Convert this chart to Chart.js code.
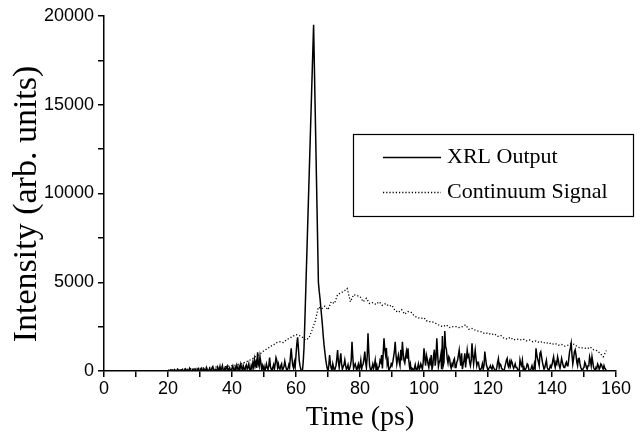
<!DOCTYPE html>
<html><head><meta charset="utf-8">
<script src="https://cdn.jsdelivr.net/npm/chart.js@4/dist/chart.umd.min.js"></script>
<style>html,body{margin:0;padding:0;background:#fff}canvas{display:block}</style>
</head><body>
<canvas id="c" width="642" height="440"></canvas>
<script>
const xTickLabels = [0, 20, 40, 60, 80, 100, 120, 140, 160];
const yTickLabels = [0, 5000, 10000, 15000, 20000];
const seriesNames = ['XRL Output', 'Continuum Signal'];
const xTitle = 'Time (ps)';
const yTitle = 'Intensity (arb. units)';

// XRL Output sampled every 0.25 ps starting at 20 ps (one row = 5 ps)
const xrlStart = 20, xrlStep = 0.25;
const xrlValues = [
  0,30,0,60,20,0,50,0,80,30,0,40,100,20,0,60,30,0,90,20,
  0,60,120,30,0,40,0,150,60,20,0,90,30,0,110,50,0,70,140,30,
  0,80,160,40,0,120,60,0,200,90,30,0,150,70,0,180,250,40,0,100,
  60,0,220,100,30,250,0,120,300,60,0,150,40,200,280,0,90,180,50,0,
  150,280,60,0,200,90,320,150,0,250,100,380,200,40,300,120,0,260,350,100,
  200,400,80,0,300,150,450,220,650,300,500,180,1050,400,250,800,500,120,300,80,
  250,0,150,400,200,80,300,750,250,100,0,200,350,100,400,750,600,200,400,150,
  100,300,400,0,150,250,550,300,100,0,150,350,200,800,1280,700,300,150,500,250,
  900,1500,1900,1300,600,300,100,0,0,500,1300,2700,4230,5750,7280,8810,10340,11860,13390,14920,
  16450,17970,19500,17080,14670,12250,9830,7420,5000,4500,4100,3600,3100,2600,2000,1500,1100,700,400,150,
  0,300,900,400,150,50,400,200,0,150,300,700,1180,500,200,600,1000,400,100,250,
  350,620,300,100,200,350,0,150,300,600,1650,800,150,300,400,200,0,250,400,100,
  250,600,100,300,400,700,1090,500,200,800,2120,1100,300,100,0,200,400,150,300,600,
  100,300,0,200,250,600,500,900,150,1000,1840,1200,900,1300,400,600,0,150,200,400,
  300,500,800,1100,1650,900,400,700,900,500,300,1200,600,1650,1000,600,450,800,1100,700,
  1280,600,200,400,0,150,100,0,150,350,100,0,200,400,100,200,400,250,100,500,
  1280,700,300,900,700,400,200,600,450,900,100,300,900,1200,300,700,1840,1000,250,500,
  600,900,100,1970,300,500,2250,1400,1200,700,450,800,700,300,150,400,300,600,700,200,
  200,500,600,900,1180,700,300,1000,100,400,600,1000,200,700,1180,800,900,500,300,600,
  1560,900,400,800,1180,700,300,500,500,200,0,100,200,400,100,300,1090,700,350,200,
  0,150,200,300,150,100,300,200,100,0,0,200,500,700,200,400,350,150,100,0,
  0,200,400,600,710,300,200,500,300,600,500,300,150,250,400,200,200,100,0,0,
  620,400,300,600,100,200,0,100,200,400,350,100,0,50,150,300,100,0,400,200,
  1280,900,700,500,300,1000,1090,800,500,300,100,200,400,600,200,100,0,150,300,200,
  350,600,800,400,200,500,400,800,600,300,150,400,710,500,300,200,200,400,500,300,
  300,700,1090,1300,1560,900,400,700,1090,1200,900,500,300,700,710,400,200,100,0,150,
  200,500,400,200,100,300,300,800,600,300,800,500,200,100,0,200,150,400,300,100,
  200,400,340,200,100,300,150,100,0
];

// Continuum Signal sampled every 1 ps starting at 20 ps
const contStart = 20, contStep = 1;
const contValues = [
  40,60,50,90,70,110,90,130,120,150,
  140,170,160,200,190,230,210,250,240,280,
  300,330,380,420,480,560,650,760,880,1000,
  1150,1250,1380,1480,1600,1650,1600,1750,1850,1950,
  2050,2000,1900,1750,1850,2300,2800,3600,3500,3650,
  3450,3900,3800,4300,4400,4500,4650,3900,4300,4250,
  4200,3900,4100,3800,3850,3750,3900,3700,3800,3650,
  3700,3400,3300,3450,3200,3350,3300,3100,3000,2950,
  3000,2800,2780,2750,2650,2550,2500,2600,2450,2500,
  2500,2450,2500,2600,2350,2400,2300,2250,2200,2100,
  2150,2050,2100,1950,2000,1850,1800,1900,1750,1800,
  1750,1800,1700,1750,1650,1700,1600,1650,1550,1600,
  1500,1550,1450,1500,1400,1450,1550,1500,1350,1300,
  1300,1250,1350,1200,1150,1000,800,1150
];

const toPoints = (start, step, vals) => vals.map((v, i) => ({x: start + step * i, y: v}));

const boxLegend = {
  id: 'boxLegend',
  afterDraw(chart) {
    const ctx = chart.ctx;
    ctx.save();
    // legend box
    ctx.fillStyle = '#fff';
    ctx.fillRect(353.5, 134.5, 280, 82);
    ctx.strokeStyle = '#000';
    ctx.lineWidth = 1.2;
    ctx.setLineDash([]);
    ctx.strokeRect(353.5, 134.5, 280, 82);
    chart.data.datasets.forEach((ds, i) => {
      const y = 157 + i * 35;
      ctx.beginPath();
      ctx.setLineDash(ds.borderDash || []);
      ctx.lineWidth = ds.borderWidth;
      ctx.strokeStyle = ds.borderColor;
      ctx.moveTo(383, y + 0.5);
      ctx.lineTo(441, y + 0.5);
      ctx.stroke();
      ctx.setLineDash([]);
      ctx.font = '22px "Liberation Serif"';
      ctx.fillStyle = '#000';
      ctx.textBaseline = 'middle';
      ctx.textAlign = 'left';
      ctx.fillText(ds.label, 447, y);
    });
    // y-axis title
    ctx.translate(27, 204);
    ctx.rotate(-Math.PI / 2);
    ctx.font = '34px "Liberation Serif"';
    ctx.textAlign = 'center';
    ctx.textBaseline = 'middle';
    ctx.fillStyle = '#000';
    ctx.fillText(yTitle, 0, 0);
    ctx.restore();
  }
};

new Chart(document.getElementById('c'), {
  type: 'line',
  data: {
    datasets: [
      {
        label: seriesNames[0],
        data: toPoints(xrlStart, xrlStep, xrlValues),
        borderColor: '#000', borderWidth: 1.5, pointRadius: 0, tension: 0.000001, fill: false
      },
      {
        label: seriesNames[1],
        data: toPoints(contStart, contStep, contValues),
        borderColor: '#000', borderWidth: 1.3, borderDash: [1.2, 2], pointRadius: 0, tension: 0, fill: false
      }
    ]
  },
  options: {
    responsive: false,
    animation: false,
    devicePixelRatio: 1,
    layout: { padding: { top: 16, right: 26, left: 0, bottom: 0 } },
    plugins: { legend: { display: false }, tooltip: { enabled: false } },
    scales: {
      x: {
        type: 'linear',
        min: xTickLabels[0], max: xTickLabels[xTickLabels.length - 1],
        afterFit: s => { s.height = 69; },
        border: { display: true, color: '#000', width: 1.5 },
        grid: { drawOnChartArea: false, drawTicks: true, tickLength: 6, color: '#000', lineWidth: 1.5 },
        ticks: {
          stepSize: 10, autoSkip: false, maxRotation: 0, padding: 1,
          color: '#000', font: { family: '"Liberation Sans"', size: 18 },
          callback: v => xTickLabels.includes(v) ? String(v) : ''
        },
        title: { display: true, text: xTitle, color: '#000', font: { family: '"Liberation Serif"', size: 28 }, padding: { top: 0, bottom: 6 } }
      },
      y: {
        min: yTickLabels[0], max: yTickLabels[yTickLabels.length - 1],
        afterFit: s => { s.width = 104; },
        border: { display: true, color: '#000', width: 1.5 },
        grid: { drawOnChartArea: false, drawTicks: true, tickLength: 6, color: '#000', lineWidth: 1.5 },
        ticks: {
          stepSize: 2500, autoSkip: false, padding: 4,
          color: '#000', font: { family: '"Liberation Sans"', size: 18 },
          callback: v => yTickLabels.includes(v) ? String(v) : ''
        },
        title: { display: false, text: yTitle }
      }
    }
  },
  plugins: [boxLegend]
});
</script>
</body></html>
